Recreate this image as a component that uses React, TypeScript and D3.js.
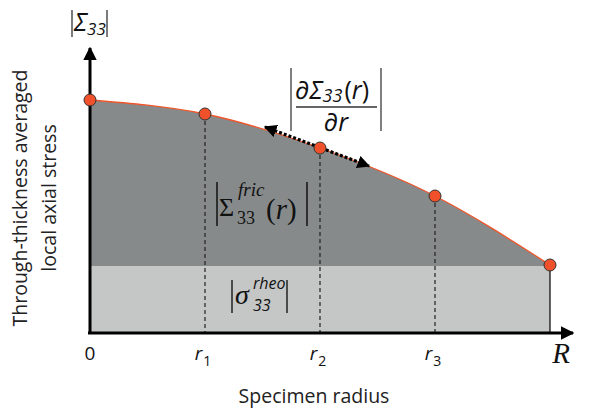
import * as d3 from 'd3'

// schematic radial profile, r in units of R/4
const radii = [0, 1, 2, 3, 4]
const stress = [93.2, 87.6, 74, 54.8, 27.2]
const rheoLevel = 26.8
const tickNames = ['0', 'r', 'r', 'r']
const tickSubs = ['', '1', '2', '3']

const W = 593
const H = 415

const x = d3.scaleLinear().domain([0, 4]).range([90, 550])
const y = d3.scaleLinear().domain([0, 100]).range([333, 83])

const sans = '"Open Sans", Lato, sans-serif'
const serif = '"Liberation Serif", "DejaVu Serif", serif'

export default function App() {
  const pts = radii.map((r, i) => [r, stress[i]] as [number, number])

  const area = d3.area<[number, number]>()
    .x(d => x(d[0]))
    .y0(y(rheoLevel))
    .y1(d => y(d[1]))
    .curve(d3.curveNatural)

  const line = d3.line<[number, number]>()
    .x(d => x(d[0]))
    .y(d => y(d[1]))
    .curve(d3.curveNatural)

  // direction of the tangent arrow around r2
  const ax0 = 265, ay0 = 127, ax1 = 369, ay1 = 166

  return (
    <svg width={W} height={H} style={{ position: 'absolute', left: 0, top: 0, background: '#fff' }}>
      <defs>
        <marker id="ah" viewBox="0 0 10 10" refX="9" refY="5" markerWidth="4" markerHeight="4" orient="auto-start-reverse">
          <path d="M0,0 L10,5 L0,10 z" fill="#000" />
        </marker>
        <marker id="ax" viewBox="0 0 10 10" refX="9" refY="5" markerWidth="4.5" markerHeight="4.5" orient="auto">
          <path d="M0,0 L10,5 L0,10 z" fill="#000" />
        </marker>
      </defs>

      {/* rheological part */}
      <rect x={x(0)} y={y(rheoLevel)} width={x(4) - x(0)} height={y(0) - y(rheoLevel)} fill="#c5c6c6" />
      {/* frictional part */}
      <path d={area(pts) || ''} fill="#878a8a" />
      <path d={line(pts) || ''} fill="none" stroke="#f0562a" strokeWidth={1.3} />

      {/* right edge */}
      <line x1={x(4)} x2={x(4)} y1={y(stress[4])} y2={y(0)} stroke="#000" strokeWidth={1.2} />

      {/* dashed guides */}
      {radii.slice(1, 4).map((r, i) => (
        <line key={r} x1={x(r)} x2={x(r)} y1={y(stress[i + 1])} y2={y(0)}
          stroke="#222" strokeWidth={1.2} strokeDasharray="4,3" />
      ))}

      {/* axes */}
      <line x1={x(0)} x2={x(0)} y1={y(0) + 1} y2={48} stroke="#000" strokeWidth={3} markerEnd="url(#ax)" />
      <line x1={x(0) - 2} x2={573} y1={y(0)} y2={y(0)} stroke="#000" strokeWidth={3} markerEnd="url(#ax)" />

      {/* tangent arrow */}
      <line x1={ax0} y1={ay0} x2={ax1} y2={ay1} stroke="#000" strokeWidth={3.2} strokeDasharray="3,2"
        markerStart="url(#ah)" markerEnd="url(#ah)" />

      {/* points */}
      {pts.map(d => (
        <circle key={d[0]} cx={x(d[0])} cy={y(d[1])} r={6} fill="#f0502a" stroke="#333" strokeWidth={1} />
      ))}

      {/* tick labels */}
      {radii.slice(0, 4).map((r, i) => (
        <text key={r} x={x(r) - (i ? 2 : 0)} y={360} textAnchor="middle" fontFamily={sans} fontSize={19} fill="#111">
          <tspan fontStyle={i ? 'italic' : 'normal'}>{tickNames[i]}</tspan>
          {tickSubs[i] && <tspan fontSize={14} dy={6} dx={1}>{tickSubs[i]}</tspan>}
        </text>
      ))}
      <text x={561} y={363} textAnchor="middle" fontFamily={serif} fontStyle="italic" fontSize={29} fill="#111">R</text>

      <text x={314} y={403} textAnchor="middle" fontFamily={sans} fontSize={19.5} fill="#222">Specimen radius</text>

      <g transform="translate(27,198) rotate(-90)">
        <text x={0} y={0} textAnchor="middle" fontFamily={sans} fontSize={19.5} fill="#222">Through-thickness averaged</text>
        <text x={0} y={29} textAnchor="middle" fontFamily={sans} fontSize={19.5} fill="#222">local axial stress</text>
      </g>

      {/* |Σ33| at axis top */}
      <line x1={72} x2={72} y1={10} y2={37} stroke="#333" strokeWidth={1.3} />
      <line x1={107} x2={107} y1={10} y2={37} stroke="#333" strokeWidth={1.3} />
      <text x={74} y={31} fontFamily={sans} fontStyle="italic" fontSize={25} fill="#111">
        Σ<tspan fontSize={17} dy={4}>33</tspan>
      </text>

      {/* derivative label */}
      <line x1={291} x2={291} y1={68} y2={131} stroke="#555" strokeWidth={1.5} />
      <line x1={381} x2={381} y1={68} y2={131} stroke="#555" strokeWidth={1.5} />
      <line x1={296} x2={377} y1={107} y2={107} stroke="#333" strokeWidth={1.3} />
      <text x={295} y={99} fontFamily={sans} fontSize={25} fill="#111">
        ∂<tspan fontStyle="italic">Σ</tspan><tspan fontStyle="italic" fontSize={18} dy={3}>33</tspan>
        <tspan dy={-3} dx={2}>(</tspan><tspan fontStyle="italic">r</tspan><tspan>)</tspan>
      </text>
      <text x={336} y={131} textAnchor="middle" fontFamily={sans} fontSize={25} fill="#111">
        ∂<tspan fontStyle="italic">r</tspan>
      </text>

      {/* frictional label */}
      <line x1={217} x2={217} y1={182} y2={226} stroke="#111" strokeWidth={1.5} />
      <line x1={307} x2={307} y1={182} y2={226} stroke="#111" strokeWidth={1.5} />
      <text x={219} y={216} fontFamily={serif} fontSize={26} fill="#111">Σ</text>
      <text x={238} y={196} fontFamily={serif} fontStyle="italic" fontSize={19} fill="#111">fric</text>
      <text x={237} y={224} fontFamily={serif} fontSize={18} fill="#111">33</text>
      <text x={266} y={219} fontFamily={serif} fontSize={29} fill="#111">
        (<tspan fontStyle="italic">r</tspan>)
      </text>

      {/* rheological label */}
      <line x1={232} x2={232} y1={280} y2={313} stroke="#222" strokeWidth={1.5} />
      <line x1={287} x2={287} y1={280} y2={313} stroke="#222" strokeWidth={1.5} />
      <text x={235} y={304} fontFamily={serif} fontStyle="italic" fontSize={28} fill="#111">σ</text>
      <text x={253} y={289} fontFamily={sans} fontStyle="italic" fontSize={16} fill="#111">rheo</text>
      <text x={253} y={311} fontFamily={sans} fontStyle="italic" fontSize={16} fill="#111">33</text>
    </svg>
  )
}
